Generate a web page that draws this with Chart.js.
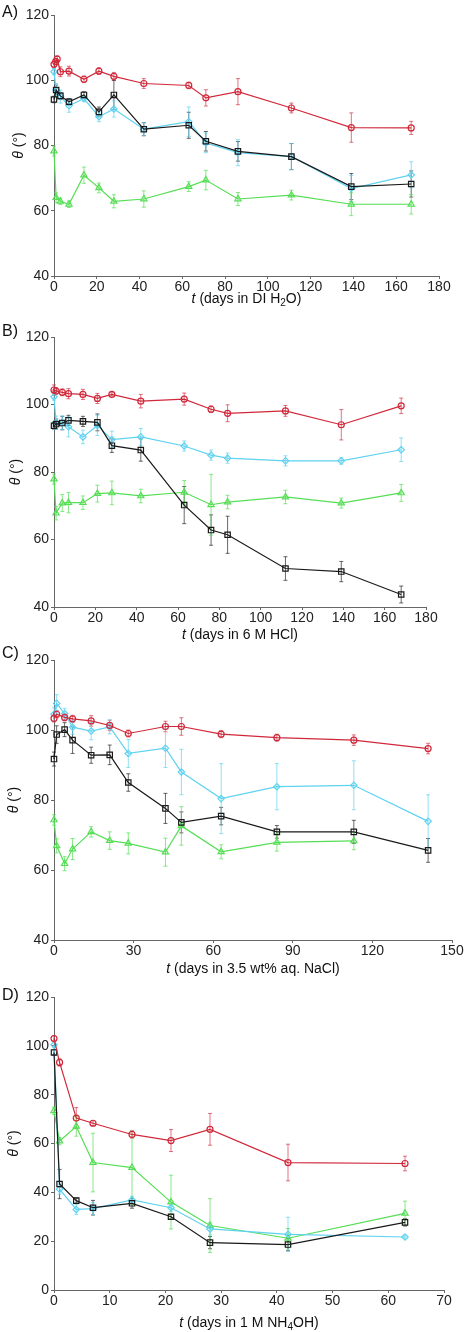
<!DOCTYPE html>
<html>
<head>
<meta charset="utf-8">
<script src="https://cdn.jsdelivr.net/npm/chart.js@4"></script>
<style>
html, body { margin:0; padding:0; background:#fff; }
#wrap { position:relative; width:465px; height:1332px; }
canvas { position:absolute; left:0; }
</style>
</head>
<body>
<div id="wrap">
  <canvas id="chartA" width="465" height="320" style="top:0px"></canvas>
  <canvas id="chartB" width="465" height="330" style="top:320px"></canvas>
  <canvas id="chartC" width="465" height="340" style="top:640px"></canvas>
  <canvas id="chartD" width="465" height="352" style="top:980px"></canvas>
</div>
<script>
// ---- A) DI water ----
var daysA = [0, 1, 3, 7, 14, 21, 28, 42, 63, 71, 86, 111, 139, 167];
var daysA_red = [0, 0.8, 1.5, 3, 7, 14, 21, 28, 42, 63, 71, 86, 111, 139, 167];
var redA = [104.9, 105.7, 106.5, 102.6, 102.8, 100.3, 102.8, 101.2, 99.0, 98.4, 94.6, 96.5, 91.5, 85.5, 85.4];
var redA_err = [1, 1, 1, 1.5, 1.5, 1, 1, 1.2, 1.5, 1, 2.5, 4, 1.5, 4.5, 2];
var cyanA = [102.6, 97.0, 95.0, 92.2, 94.4, 88.8, 91.2, 85.0, 87.3, 80.8, 77.8, 76.6, 66.8, 71.0];
var cyanA_err = [1, 2, 2, 2, 1, 1.5, 2.5, 2, 4.5, 3, 4, 4, 4, 4];
var blackA = [94.1, 97.0, 95.2, 93.4, 95.5, 90.3, 95.5, 85.0, 86.2, 81.3, 78.2, 76.6, 67.4, 68.2];
var blackA_err = [1, 1.5, 1, 1, 1, 1.5, 4.5, 2, 4, 3, 3, 4, 4, 4];
var greenA = [78.3, 64.0, 62.9, 62.0, 70.9, 67.0, 62.9, 63.6, 67.4, 69.4, 63.6, 64.8, 62.0, 62.0];
var greenA_err = [1.5, 1.5, 1, 1, 2.5, 1.5, 2, 2.5, 1.5, 3, 2, 1.5, 3.5, 3];

// ---- B) 6 M HCl ----
var daysB = [0, 1, 4, 7, 14, 21, 28, 42, 63, 76, 84, 112, 139, 168];
var redB = [104.3, 104.0, 103.6, 103.2, 103.0, 101.8, 103.0, 101.0, 101.6, 98.6, 97.4, 98.1, 94.0, 99.6];
var redB_err = [1.5, 1, 1, 1.5, 1.5, 1.5, 0.5, 2, 1.8, 1, 2.5, 1.6, 4.5, 2.3];
var cyanB = [102.3, 94.6, 94.6, 93.4, 90.4, 93.8, 89.6, 90.4, 87.7, 85.0, 84.1, 83.3, 83.3, 86.6];
var cyanB_err = [1, 2, 2, 3, 2, 3, 2.5, 2.5, 1.5, 1.5, 1.5, 1.5, 1, 3.5];
var blackB = [93.7, 94.2, 94.5, 95.3, 95.0, 94.7, 87.8, 86.5, 70.2, 62.8, 61.4, 51.4, 50.5, 43.7];
var blackB_err = [1, 1.5, 2, 1.5, 1.5, 2.5, 2, 3.3, 5.5, 4.5, 5.5, 3.5, 3, 2.5];
var greenB = [77.9, 67.8, 70.8, 70.9, 70.9, 73.6, 73.8, 72.9, 74.0, 70.3, 71.1, 72.6, 70.8, 73.8];
var greenB_err = [1.5, 2, 2.5, 3, 2, 2.5, 3.5, 2, 3.5, 9, 2, 2, 1.5, 2.5];

// ---- C) 3.5 wt% NaCl ----
var daysC = [0, 1, 4, 7, 14, 21, 28, 42, 48, 63, 84, 113, 141];
var daysC_green = [0, 1, 4, 7, 14, 21, 28, 42, 48, 63, 84, 113];
var redC = [103.3, 104.5, 103.6, 103.2, 102.6, 101.3, 99.0, 101.0, 101.0, 98.8, 97.8, 97.1, 94.7];
var redC_err = [1, 1, 1, 1, 1.5, 1.5, 1, 1.5, 2.5, 1, 1, 1.5, 1.5];
var cyanC = [104.5, 107.6, 104.7, 100.8, 99.7, 100.9, 93.3, 94.8, 88.0, 80.4, 83.8, 84.2, 73.9];
var cyanC_err = [2, 2.5, 1.5, 2, 2.5, 2, 4, 5.5, 6.5, 10, 6.6, 7, 7.6];
var blackC = [91.7, 98.7, 100.1, 97.1, 92.8, 92.9, 85.0, 77.6, 73.6, 75.4, 70.9, 70.9, 65.6];
var blackC_err = [2, 2.5, 2, 3.8, 2.3, 2.8, 2.5, 4.3, 3, 2.5, 1.8, 3.3, 3.4];
var greenC = [74.3, 66.9, 61.8, 66.0, 70.9, 68.4, 67.6, 65.1, 72.6, 65.2, 67.9, 68.3];
var greenC_err = [1.5, 2, 2, 3, 1.5, 2.5, 3, 4, 5.5, 2, 2.5, 2.5];

// ---- D) 1 M NH4OH ----
var daysD = [0, 1, 4, 7, 14, 21, 28, 42, 63];
var redD = [103.0, 93.2, 70.4, 68.3, 63.7, 61.2, 65.8, 52.2, 51.8];
var redD_err = [1, 1.5, 4.3, 1, 1.5, 4.5, 6.5, 7.5, 3];
var cyanD = [100.4, 41.3, 33.0, 33.3, 36.9, 33.7, 25.0, 22.8, 21.7];
var cyanD_err = [1, 2, 2, 2.5, 1.5, 1.5, 2.5, 7, 0.5];
var blackD = [97.3, 43.4, 36.6, 33.7, 35.5, 30.0, 19.4, 18.6, 27.7];
var blackD_err = [1, 6, 1, 3, 2, 1, 2.5, 2.5, 1.5];
var greenD = [73.4, 61.0, 67.0, 52.2, 50.1, 36.0, 26.4, 21.2, 31.4];
var greenD_err = [1.5, 1.5, 4, 12, 15, 11, 11, 4, 5];

var FONT = '"Liberation Sans", Arial, sans-serif';
var RED = 'rgb(208,40,58)', CYAN = 'rgb(95,210,240)', BLACK = 'rgb(25,25,25)', GREEN = 'rgb(85,222,85)';

function series(color, errColor, style, radius, days, vals, err) {
  return { color: color, errColor: errColor, style: style, radius: radius, days: days, vals: vals, err: err };
}
function four(dr, r, re, dc, c, ce, db, b, be, dg, g, ge) {
  return [
    series(RED, 'rgba(208,40,58,0.65)', 'circle', 3, dr, r, re),
    series(BLACK, 'rgba(40,40,40,0.7)', 'rect', 3.8, db, b, be),
    series(CYAN, 'rgba(95,210,240,0.7)', 'rectRot', 3.2, dc, c, ce),
    series(GREEN, 'rgba(85,222,85,0.7)', 'triangle', 3.6, dg, g, ge)
  ];
}

var panels = [
  { id: 'chartA', tag: 'A)', medium: [' (days in DI H', '2', 'O)'], xMax: 180, xStep: 20, yMin: 40,
    h: 320, top: 15, bottom: 276, right: 439, titleY: 299, yTitleX: 19, tagY: 13,
    series: four(daysA_red, redA, redA_err, daysA, cyanA, cyanA_err, daysA, blackA, blackA_err, daysA, greenA, greenA_err) },
  { id: 'chartB', tag: 'B)', medium: [' (days in 6 M HCl)'], xMax: 180, xStep: 20, yMin: 40,
    h: 330, top: 17, bottom: 287, right: 426, titleY: 315, yTitleX: 16, tagY: 12,
    series: four(daysB, redB, redB_err, daysB, cyanB, cyanB_err, daysB, blackB, blackB_err, daysB, greenB, greenB_err) },
  { id: 'chartC', tag: 'C)', medium: [' (days in 3.5 wt% aq. NaCl)'], xMax: 150, xStep: 30, yMin: 40,
    h: 340, top: 20, bottom: 300, right: 452, titleY: 329, yTitleX: 14, tagY: 14,
    series: four(daysC, redC, redC_err, daysC, cyanC, cyanC_err, daysC, blackC, blackC_err, daysC_green, greenC, greenC_err) },
  { id: 'chartD', tag: 'D)', medium: [' (days in 1 M NH', '4', 'OH)'], xMax: 70, xStep: 10, yMin: 0,
    h: 352, top: 17, bottom: 310, right: 444, titleY: 343, yTitleX: 14, tagY: 16,
    series: four(daysD, redD, redD_err, daysD, cyanD, cyanD_err, daysD, blackD, blackD_err, daysD, greenD, greenD_err) }
];

function segFont(s) {
  return (s.italic ? 'italic ' : '') + (s.sub ? 10 : 14) + 'px ' + FONT;
}
function drawSegs(ctx, segs, cx, cy) {
  var total = 0;
  segs.forEach(function (s) { ctx.font = segFont(s); s.w = ctx.measureText(s.t).width; total += s.w; });
  var x = cx - total / 2;
  ctx.textAlign = 'left';
  ctx.textBaseline = 'middle';
  segs.forEach(function (s) {
    ctx.font = segFont(s);
    ctx.fillText(s.t, x, cy + (s.sub ? 4 : 0));
    x += s.w;
  });
}

function makeChart(p) {
  var datasets = p.series.map(function (s) {
    return {
      data: s.days.map(function (d, i) { return { x: d, y: s.vals[i] }; }),
      err: s.err,
      errColor: s.errColor,
      showLine: true,
      borderColor: s.color,
      borderWidth: 1.2,
      pointStyle: s.style,
      pointRadius: s.radius,
      pointBorderColor: s.color,
      pointBackgroundColor: 'rgba(255,255,255,0)',
      pointBorderWidth: 1.2,
      clip: false
    };
  });

  var extras = {
    id: 'extras',
    beforeDatasetsDraw: function (chart) {
      var ctx = chart.ctx, xs = chart.scales.x, ys = chart.scales.y;
      ctx.save();
      chart.data.datasets.forEach(function (ds) {
        ctx.strokeStyle = ds.errColor;
        ctx.lineWidth = 1;
        ds.data.forEach(function (pt, i) {
          var e = ds.err[i];
          var x = xs.getPixelForValue(pt.x);
          var y1 = ys.getPixelForValue(pt.y + e), y2 = ys.getPixelForValue(pt.y - e);
          ctx.beginPath();
          ctx.moveTo(x, y1); ctx.lineTo(x, y2);
          ctx.moveTo(x - 2, y1); ctx.lineTo(x + 2, y1);
          ctx.moveTo(x - 2, y2); ctx.lineTo(x + 2, y2);
          ctx.stroke();
        });
      });
      ctx.restore();
    },
    afterDraw: function (chart) {
      var ctx = chart.ctx, a = chart.chartArea;
      ctx.save();
      ctx.fillStyle = '#111';
      // x title
      var segs = [{ t: 't', italic: true }, { t: p.medium[0] }];
      if (p.medium.length > 1) { segs.push({ t: p.medium[1], sub: true }); segs.push({ t: p.medium[2] }); }
      drawSegs(ctx, segs, (a.left + a.right) / 2, p.titleY);
      // y title
      ctx.save();
      ctx.translate(p.yTitleX, (a.top + a.bottom) / 2);
      ctx.rotate(-Math.PI / 2);
      drawSegs(ctx, [{ t: 'θ', italic: true }, { t: ' (°)' }], 0, 0);
      ctx.restore();
      // panel tag
      ctx.font = '16px ' + FONT;
      ctx.textAlign = 'left';
      ctx.textBaseline = 'middle';
      ctx.fillText(p.tag, 2, p.tagY);
      ctx.restore();
    }
  };

  var axisBase = {
    type: 'linear',
    grid: { drawOnChartArea: false, drawTicks: true, tickLength: 3, color: '#666' },
    border: { color: '#666', width: 1 },
    ticks: { color: '#222', font: { size: 14, family: FONT }, autoSkip: false, maxRotation: 0 }
  };

  return new Chart(document.getElementById(p.id).getContext('2d'), {
    type: 'scatter',
    data: { datasets: datasets },
    options: {
      responsive: false,
      animation: false,
      layout: { padding: { top: p.top, right: 465 - p.right, left: 0, bottom: 0 } },
      plugins: { legend: { display: false }, tooltip: { enabled: false } },
      scales: {
        x: Object.assign({}, axisBase, {
          min: 0, max: p.xMax,
          ticks: Object.assign({}, axisBase.ticks, { stepSize: p.xStep, padding: 0 }),
          afterFit: function (s) { s.height = p.h - p.bottom; }
        }),
        y: Object.assign({}, axisBase, {
          min: p.yMin, max: 120,
          ticks: Object.assign({}, axisBase.ticks, { stepSize: 20, padding: 2 }),
          afterFit: function (s) { s.width = 54; }
        })
      }
    },
    plugins: [extras]
  });
}

panels.forEach(makeChart);
</script>
</body>
</html>
